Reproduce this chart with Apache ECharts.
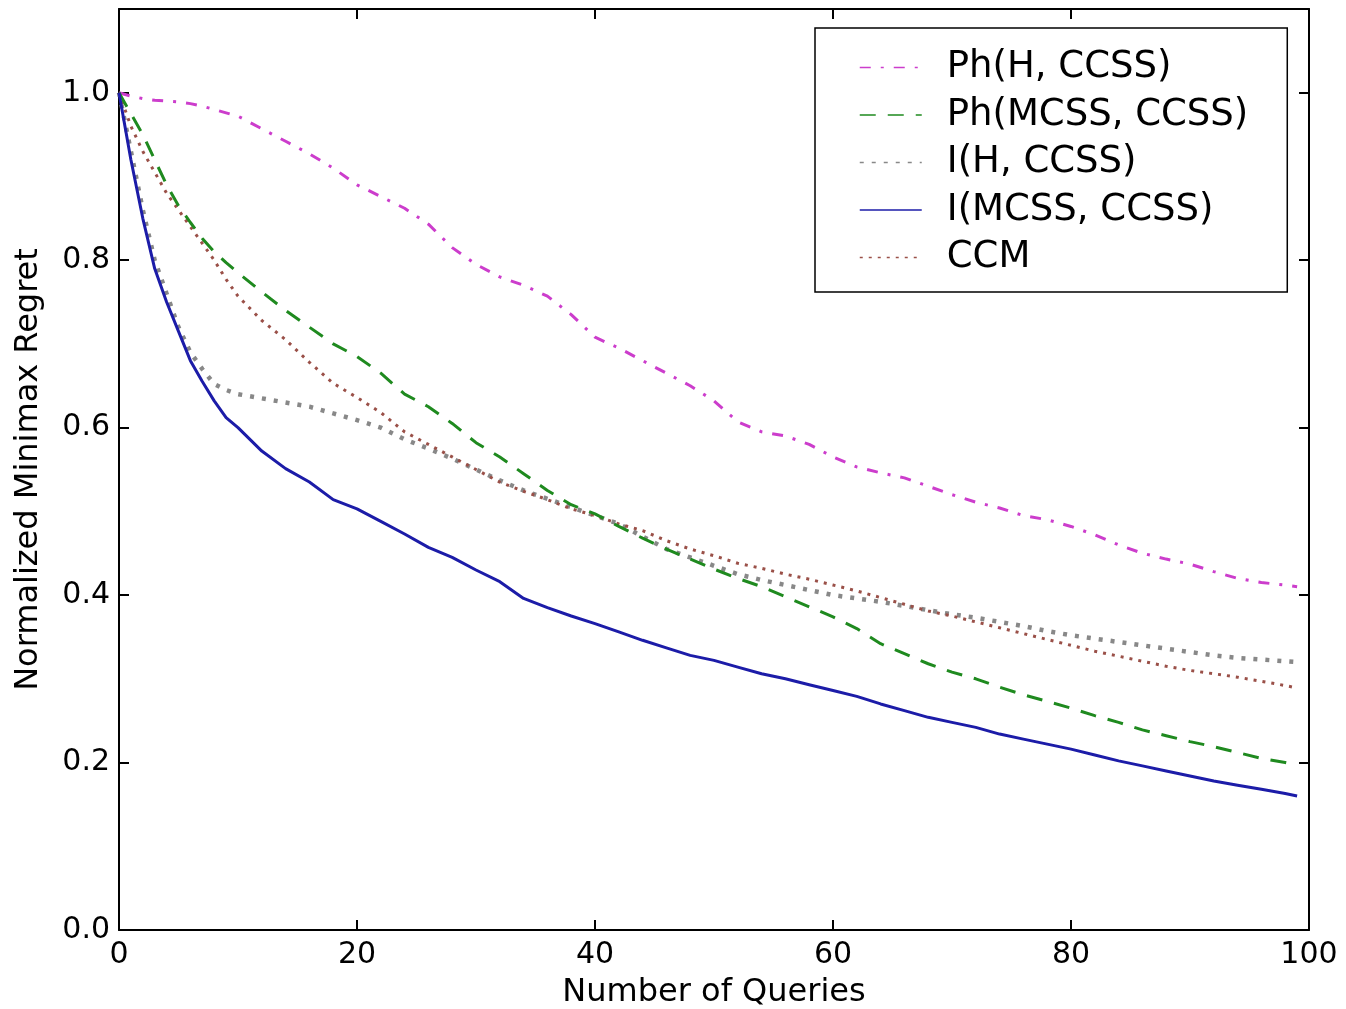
<!DOCTYPE html>
<html>
<head>
<meta charset="utf-8">
<script src="https://cdn.jsdelivr.net/npm/echarts@6/dist/echarts.min.js"></script>
<style>
html,body{margin:0;padding:0;background:#fff;}
#chart{width:1346px;height:1009px;}
</style>
</head>
<body>
<div id="chart"></div>
<script>
const xs = [0,1,2,3,4,5,6,7,8,9,10,12,14,16,18,20,22,24,26,28,30,32,34,36,38,40,42,44,46,48,50,52,54,56,58,60,62,64,66,68,70,72,74,76,78,80,82,84,86,88,90,92,94,96,98,99];

const phH = [1.0,0.996,0.993,0.991,0.99,0.989,0.987,0.984,0.98,0.976,0.972,0.957,0.942,0.927,0.91,0.89,0.876,0.862,0.843,0.815,0.795,0.78,0.77,0.757,0.735,0.708,0.695,0.68,0.665,0.65,0.632,0.607,0.595,0.59,0.58,0.565,0.553,0.546,0.54,0.53,0.52,0.511,0.504,0.495,0.49,0.482,0.472,0.46,0.45,0.443,0.437,0.428,0.42,0.415,0.412,0.41];

const phMCSS = [1.0,0.975,0.95,0.92,0.89,0.865,0.845,0.826,0.81,0.797,0.785,0.762,0.74,0.72,0.70,0.685,0.665,0.64,0.625,0.605,0.582,0.565,0.545,0.525,0.508,0.497,0.482,0.468,0.455,0.443,0.431,0.420,0.410,0.398,0.386,0.374,0.360,0.342,0.330,0.318,0.308,0.300,0.290,0.281,0.273,0.265,0.256,0.248,0.239,0.232,0.225,0.219,0.212,0.205,0.200,0.197];

const iH = [1.0,0.93,0.86,0.80,0.76,0.72,0.69,0.67,0.652,0.645,0.64,0.635,0.63,0.625,0.617,0.609,0.60,0.586,0.575,0.563,0.55,0.537,0.525,0.515,0.505,0.495,0.485,0.47,0.455,0.445,0.435,0.425,0.418,0.412,0.406,0.40,0.396,0.392,0.387,0.382,0.377,0.373,0.368,0.363,0.357,0.352,0.348,0.344,0.34,0.336,0.332,0.328,0.325,0.323,0.321,0.32];

const iMCSS = [1.0,0.92,0.85,0.79,0.75,0.715,0.68,0.655,0.632,0.612,0.60,0.572,0.551,0.535,0.514,0.503,0.488,0.473,0.457,0.445,0.430,0.416,0.396,0.385,0.375,0.366,0.356,0.346,0.337,0.328,0.322,0.314,0.306,0.300,0.293,0.286,0.279,0.270,0.262,0.254,0.248,0.242,0.234,0.228,0.222,0.216,0.209,0.202,0.196,0.190,0.184,0.178,0.173,0.168,0.163,0.160];

const ccm = [1.0,0.96,0.93,0.905,0.88,0.86,0.84,0.82,0.80,0.777,0.757,0.728,0.705,0.678,0.653,0.636,0.618,0.595,0.58,0.565,0.55,0.535,0.524,0.514,0.503,0.495,0.485,0.477,0.465,0.455,0.447,0.438,0.432,0.425,0.419,0.412,0.405,0.397,0.389,0.381,0.375,0.368,0.361,0.354,0.347,0.34,0.333,0.327,0.321,0.315,0.31,0.306,0.302,0.297,0.292,0.289];

const seriesNames = ['Ph(H, CCSS)','Ph(MCSS, CCSS)','I(H, CCSS)','I(MCSS, CCSS)','CCM'];
const xTicks = [0,20,40,60,80,100];
const yTicks = [0.0,0.2,0.4,0.6,0.8,1.0];

const FONT = 'DejaVu Sans';
const pairs = arr => xs.map((x,i)=>[x,arr[i]]);

const styles = [
  {color:'#cc3dcc', width:3, type:[11,10,3,10]},
  {color:'#1f8a1f', width:3, type:[16,12]},
  {color:'#888888', width:4.5, type:[4,8]},
  {color:'#1c1ca8', width:3, type:'solid'},
  {color:'#9a5048', width:3, type:[3,6]}
];
const dataArr = [phH, phMCSS, iH, iMCSS, ccm];

const series = seriesNames.map((n,i)=>({
  name:n, type:'line', data:pairs(dataArr[i]), symbol:'none', smooth:false,
  xAxisIndex:0, yAxisIndex:0,
  lineStyle:{color:styles[i].color, width:styles[i].width, type:styles[i].type},
  itemStyle:{color:styles[i].color},
  z: [3,4,2,5,3][i]
}));

const chart = echarts.init(document.getElementById('chart'), null, {renderer:'canvas'});
const axisLine = {show:true, onZero:false, lineStyle:{color:'#000', width:2}};
const tick = {show:true, inside:true, length:10, lineStyle:{color:'#000', width:2}};
chart.setOption({
  animation:false,
  backgroundColor:'#fff',
  grid:{left:119, right:37, top:9, bottom:79, containLabel:false, outerBoundsMode:'none'},
  legend:{
    orient:'vertical', left:815, top:28,
    backgroundColor:'#fff', borderColor:'#000', borderWidth:1.5, borderRadius:0,
    padding:[21,39,16,44],
    itemWidth:62, itemHeight:20, itemGap:10.5,
    itemStyle:{opacity:0, color:'transparent', borderWidth:0},
    lineStyle:{width:1.5},
    textStyle:{fontFamily:FONT, fontSize:37, color:'#000', padding:[0,0,0,20], lineHeight:35},
    data:seriesNames
  },
  xAxis:[{
    type:'value', min:0, max:100, interval:20, position:'bottom',
    name:'Number of Queries', nameLocation:'middle', nameGap:47,
    nameTextStyle:{fontFamily:FONT, fontSize:32, color:'#000'},
    axisLine, axisTick:tick, splitLine:{show:false},
    axisLabel:{fontFamily:FONT, fontSize:30, color:'#000', margin:10}
  },{
    type:'value', min:0, max:100, interval:20, position:'top',
    axisLine, axisTick:tick, splitLine:{show:false}, axisLabel:{show:false}
  }],
  yAxis:[{
    type:'value', min:0, max:1.1, interval:0.2, position:'left',
    name:'Normalized Minimax Regret', nameLocation:'middle', nameGap:74,
    nameTextStyle:{fontFamily:FONT, fontSize:32, color:'#000'},
    axisLine, axisTick:tick, splitLine:{show:false},
    axisLabel:{fontFamily:FONT, fontSize:30, color:'#000', margin:9, showMaxLabel:false,
      formatter:v=> yTicks.some(t=>Math.abs(t-v)<1e-9) ? v.toFixed(1) : ''}
  },{
    type:'value', min:0, max:1.1, interval:0.2, position:'right',
    axisLine, axisTick:tick, splitLine:{show:false}, axisLabel:{show:false}
  }],
  series
});
</script>
</body>
</html>
